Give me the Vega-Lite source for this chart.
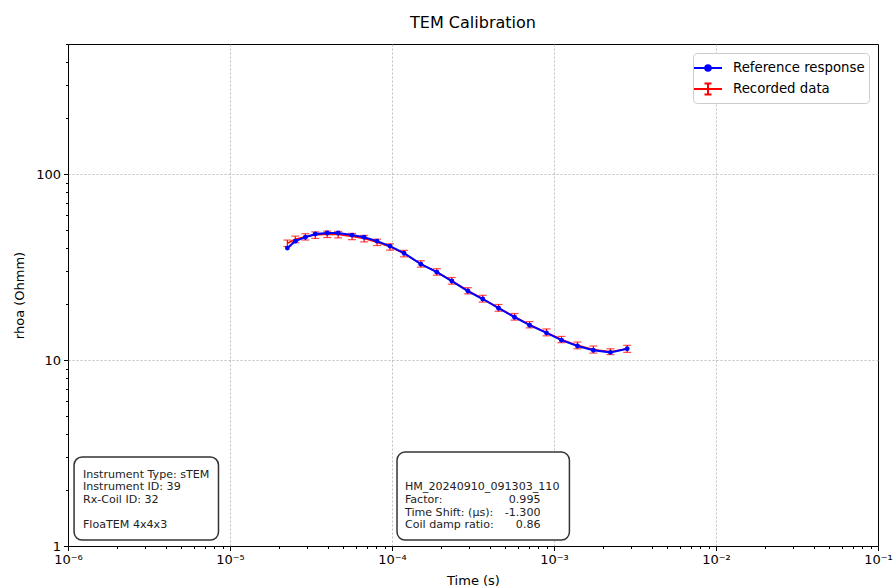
{
  "$schema": "https://vega.github.io/schema/vega-lite/v6.json",
  "autosize": {"type": "none"},
  "padding": {"left": 68, "top": 44, "right": 15, "bottom": 42},
  "width": 810,
  "height": 502,
  "title": {"text": "TEM Calibration", "fontSize": 16, "fontWeight": "normal", "font": "DejaVu Sans", "color": "black", "offset": 7},
  "config": {
    "font": "DejaVu Sans",
    "view": {"stroke": "black", "strokeWidth": 1},
    "axis": {
      "domain": false,
      "labelFont": "DejaVu Sans",
      "labelFontSize": 13,
      "labelColor": "black",
      "tickColor": "black",
      "titleFont": "DejaVu Sans",
      "titleFontSize": 13,
      "titleFontWeight": "normal",
      "titleColor": "black",
      "grid": true,
      "gridColor": "#b0b0b0",
      "gridDash": [2, 2],
      "gridWidth": 0.8,
      "labelOverlap": false,
      "labelFlush": false
    }
  },
  "data": {
    "values": [
      {"t": 2.26e-5, "ref": 40.0, "rec": 42.5, "lo": 40.8, "hi": 44.2},
      {"t": 2.53e-5, "ref": 43.6, "rec": 44.6, "lo": 42.8, "hi": 46.4},
      {"t": 2.92e-5, "ref": 45.8, "rec": 46.0, "lo": 44.2, "hi": 47.8},
      {"t": 3.36e-5, "ref": 47.6, "rec": 47.0, "lo": 45.1, "hi": 48.9},
      {"t": 3.98e-5, "ref": 48.2, "rec": 47.5, "lo": 45.6, "hi": 49.4},
      {"t": 4.65e-5, "ref": 48.2, "rec": 47.3, "lo": 45.4, "hi": 49.2},
      {"t": 5.67e-5, "ref": 47.0, "rec": 46.2, "lo": 44.4, "hi": 48.0},
      {"t": 6.73e-5, "ref": 45.8, "rec": 45.0, "lo": 43.2, "hi": 46.8},
      {"t": 8.09e-5, "ref": 43.6, "rec": 43.0, "lo": 41.3, "hi": 44.7},
      {"t": 9.72e-5, "ref": 41.0, "rec": 40.6, "lo": 39.0, "hi": 42.2},
      {"t": 1.186e-4, "ref": 37.6, "rec": 37.4, "lo": 35.9, "hi": 38.9},
      {"t": 1.507e-4, "ref": 32.8, "rec": 32.9, "lo": 31.6, "hi": 34.2},
      {"t": 1.892e-4, "ref": 29.7, "rec": 29.8, "lo": 28.6, "hi": 31.0},
      {"t": 2.34e-4, "ref": 26.6, "rec": 26.7, "lo": 25.6, "hi": 27.8},
      {"t": 2.94e-4, "ref": 23.5, "rec": 23.6, "lo": 22.7, "hi": 24.5},
      {"t": 3.63e-4, "ref": 21.3, "rec": 21.4, "lo": 20.5, "hi": 22.3},
      {"t": 4.55e-4, "ref": 19.0, "rec": 19.1, "lo": 18.3, "hi": 19.9},
      {"t": 5.71e-4, "ref": 17.0, "rec": 17.1, "lo": 16.4, "hi": 17.8},
      {"t": 7.07e-4, "ref": 15.4, "rec": 15.5, "lo": 14.9, "hi": 16.1},
      {"t": 8.99e-4, "ref": 14.0, "rec": 14.1, "lo": 13.5, "hi": 14.7},
      {"t": 1.112e-3, "ref": 12.8, "rec": 12.9, "lo": 12.4, "hi": 13.4},
      {"t": 1.396e-3, "ref": 11.9, "rec": 12.0, "lo": 11.5, "hi": 12.5},
      {"t": 1.75e-3, "ref": 11.3, "rec": 11.4, "lo": 10.9, "hi": 11.9},
      {"t": 2.23e-3, "ref": 11.0, "rec": 11.1, "lo": 10.7, "hi": 11.5},
      {"t": 2.83e-3, "ref": 11.5, "rec": 11.5, "lo": 11.0, "hi": 12.0}
    ]
  },
  "layer": [
    {
      "mark": {"type": "rule", "strokeWidth": 1.2},
      "encoding": {
        "x": {
          "field": "t", "type": "quantitative", "title": "Time (s)",
          "scale": {"type": "log", "domain": [1e-6, 0.1], "nice": false},
          "axis": {
            "values": [1e-6, 2e-6, 3e-6, 4e-6, 5e-6, 6e-6, 7e-6, 8e-6, 9e-6,
                       1e-5, 2e-5, 3e-5, 4e-5, 5e-5, 6e-5, 7e-5, 8e-5, 9e-5,
                       1e-4, 2e-4, 3e-4, 4e-4, 5e-4, 6e-4, 7e-4, 8e-4, 9e-4,
                       1e-3, 2e-3, 3e-3, 4e-3, 5e-3, 6e-3, 7e-3, 8e-3, 9e-3,
                       1e-2, 2e-2, 3e-2, 4e-2, 5e-2, 6e-2, 7e-2, 8e-2, 9e-2, 0.1],
            "labelExpr": "abs(log(datum.value)/LN10 - round(log(datum.value)/LN10)) < 0.001 ? '10' + ['⁻⁶','⁻⁵','⁻⁴','⁻³','⁻²','⁻¹'][round(log(datum.value)/LN10) + 6] : ''",
            "tickSize": {"condition": {"test": "abs(log(datum.value)/LN10 - round(log(datum.value)/LN10)) < 0.001", "value": 4.5}, "value": 2.5},
            "gridOpacity": {"condition": {"test": "abs(log(datum.value)/LN10 - round(log(datum.value)/LN10)) < 0.001 && datum.value > 2e-6 && datum.value < 0.05", "value": 1}, "value": 0},
            "labelPadding": 3,
            "titlePadding": 8
          }
        },
        "y": {
          "field": "lo", "type": "quantitative", "title": "rhoa (Ohmm)",
          "scale": {"type": "log", "domain": [1, 501], "nice": false},
          "axis": {
            "values": [1, 2, 3, 4, 5, 6, 7, 8, 9, 10, 20, 30, 40, 50, 60, 70, 80, 90, 100, 200, 300, 400, 500],
            "labelExpr": "abs(log(datum.value)/LN10 - round(log(datum.value)/LN10)) < 0.001 ? format(datum.value, 'd') : ''",
            "tickSize": {"condition": {"test": "abs(log(datum.value)/LN10 - round(log(datum.value)/LN10)) < 0.001", "value": 4.5}, "value": 2.5},
            "gridOpacity": {"condition": {"test": "abs(log(datum.value)/LN10 - round(log(datum.value)/LN10)) < 0.001 && datum.value > 1.5", "value": 1}, "value": 0},
            "labelPadding": 3,
            "titlePadding": 9
          }
        },
        "y2": {"field": "hi"},
        "color": {
          "datum": "Recorded data", "type": "nominal",
          "scale": {"domain": ["Reference response", "Recorded data"], "range": ["#0000ff", "#ff0000"]},
          "legend": {
            "title": null,
            "orient": "top-right",
            "offset": 9,
            "fillColor": "white",
            "strokeColor": "#cccccc",
            "cornerRadius": 4,
            "padding": 4,
            "labelFont": "DejaVu Sans",
            "labelFontSize": 13.3,
            "labelColor": "black",
            "symbolSize": 400,
            "labelOffset": 14,
            "rowPadding": 3,
            "encode": {
              "symbols": {
                "update": {
                  "shape": {"signal": "datum.value === 'Reference response' ? 'M-1.4,0H1.4M-0.28,0A0.28,0.28 0 1,0 0.28,0A0.28,0.28 0 1,0 -0.28,0Z' : 'M-1.4,0H1.4M0,-0.55V0.55M-0.35,-0.55H0.35M-0.35,0.55H0.35'"},
                  "stroke": {"signal": "datum.value === 'Reference response' ? '#0000ff' : '#ff0000'"},
                  "fill": {"signal": "datum.value === 'Reference response' ? '#0000ff' : 'transparent'"},
                  "strokeWidth": {"value": 2},
                  "opacity": {"value": 1}
                }
              }
            }
          }
        }
      }
    },
    {
      "mark": {"type": "tick", "orient": "horizontal", "size": 8, "thickness": 1.2},
      "encoding": {
        "x": {"field": "t", "type": "quantitative", "title": "Time (s)"},
        "y": {"field": "lo", "type": "quantitative", "title": "rhoa (Ohmm)"},
        "color": {"datum": "Recorded data", "type": "nominal"}
      }
    },
    {
      "mark": {"type": "tick", "orient": "horizontal", "size": 8, "thickness": 1.2},
      "encoding": {
        "x": {"field": "t", "type": "quantitative", "title": "Time (s)"},
        "y": {"field": "hi", "type": "quantitative", "title": "rhoa (Ohmm)"},
        "color": {"datum": "Recorded data", "type": "nominal"}
      }
    },
    {
      "mark": {"type": "line", "strokeWidth": 1.5},
      "encoding": {
        "x": {"field": "t", "type": "quantitative", "title": "Time (s)"},
        "y": {"field": "rec", "type": "quantitative", "title": "rhoa (Ohmm)"},
        "color": {"datum": "Recorded data", "type": "nominal"}
      }
    },
    {
      "mark": {"type": "line", "strokeWidth": 2, "point": {"filled": true, "size": 24}},
      "encoding": {
        "x": {"field": "t", "type": "quantitative", "title": "Time (s)"},
        "y": {"field": "ref", "type": "quantitative", "title": "rhoa (Ohmm)"},
        "color": {"datum": "Reference response", "type": "nominal"}
      }
    },
    {
      "data": {"values": [{}]},
      "mark": {"type": "rect", "fill": "white", "stroke": "#333333", "strokeWidth": 1.5, "cornerRadius": 8},
      "encoding": {
        "x": {"datum": 1.09e-6, "type": "quantitative"},
        "x2": {"datum": 8.49e-6},
        "y": {"datum": 3.01, "type": "quantitative"},
        "y2": {"datum": 1.077}
      }
    },
    {
      "data": {"values": [{}]},
      "mark": {"type": "rect", "fill": "white", "stroke": "#333333", "strokeWidth": 1.5, "cornerRadius": 8},
      "encoding": {
        "x": {"datum": 1.074e-4, "type": "quantitative"},
        "x2": {"datum": 1.245e-3},
        "y": {"datum": 3.2, "type": "quantitative"},
        "y2": {"datum": 1.077}
      }
    },
    {
      "data": {"values": [{}]},
      "mark": {"type": "text", "align": "left", "baseline": "top", "fontSize": 11.1, "lineHeight": 12.5, "color": "#222222", "font": "DejaVu Sans"},
      "encoding": {
        "x": {"datum": 1.237e-6, "type": "quantitative"},
        "y": {"datum": 2.6, "type": "quantitative"},
        "text": {"value": ["Instrument Type: sTEM", "Instrument ID: 39", "Rx-Coil ID: 32"]}
      }
    },
    {
      "data": {"values": [{}]},
      "mark": {"type": "text", "align": "left", "baseline": "top", "fontSize": 11.1, "color": "#222222", "font": "DejaVu Sans"},
      "encoding": {
        "x": {"datum": 1.237e-6, "type": "quantitative"},
        "y": {"datum": 1.4, "type": "quantitative"},
        "text": {"value": "FloaTEM 4x4x3"}
      }
    },
    {
      "data": {"values": [{}]},
      "mark": {"type": "text", "align": "left", "baseline": "top", "fontSize": 11.1, "lineHeight": 12.7, "color": "#222222", "font": "DejaVu Sans"},
      "encoding": {
        "x": {"datum": 1.202e-4, "type": "quantitative"},
        "y": {"datum": 2.23, "type": "quantitative"},
        "text": {"value": ["HM_20240910_091303_110", "Factor:", "Time Shift: (µs):", "Coil damp ratio:"]}
      }
    },
    {
      "data": {"values": [{}]},
      "mark": {"type": "text", "align": "right", "baseline": "top", "fontSize": 11.1, "lineHeight": 12.7, "color": "#222222", "font": "DejaVu Sans"},
      "encoding": {
        "x": {"datum": 8.26e-4, "type": "quantitative"},
        "y": {"datum": 1.905, "type": "quantitative"},
        "text": {"value": ["0.995", "-1.300", "0.86"]}
      }
    }
  ]
}
